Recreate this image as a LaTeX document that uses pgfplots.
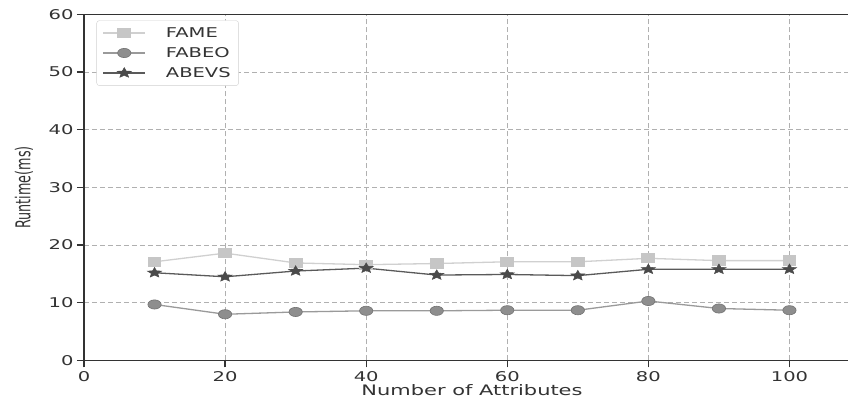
\documentclass[border=0pt]{standalone}
\usepackage{fontspec}
\setmainfont{DejaVu Sans}[FakeStretch=1.45]
\newfontfamily\ylabfont{DejaVu Sans}[FakeStretch=0.625]
\usepackage{pgfplots}
\pgfplotsset{compat=1.18}
\definecolor{fameC}{HTML}{C6C6C6}
\definecolor{fameL}{HTML}{D0D0D0}
\definecolor{fabeoC}{HTML}{8E8E8E}
\definecolor{fabeoL}{HTML}{9A9A9A}
\definecolor{abevsC}{HTML}{4A4A4A}
\definecolor{abevsL}{HTML}{5A5A5A}
\definecolor{spine}{HTML}{333333}
\definecolor{gridc}{HTML}{B0B0B0}
\pgfdeclareplotmark{fstar}{%
  \pgfpathmoveto{\pgfqpointpolar{90}{\pgfplotmarksize}}%
  \pgfpathlineto{\pgfqpointpolar{126}{0.45\pgfplotmarksize}}%
  \pgfpathlineto{\pgfqpointpolar{162}{\pgfplotmarksize}}%
  \pgfpathlineto{\pgfqpointpolar{198}{0.45\pgfplotmarksize}}%
  \pgfpathlineto{\pgfqpointpolar{234}{\pgfplotmarksize}}%
  \pgfpathlineto{\pgfqpointpolar{270}{0.45\pgfplotmarksize}}%
  \pgfpathlineto{\pgfqpointpolar{306}{\pgfplotmarksize}}%
  \pgfpathlineto{\pgfqpointpolar{342}{0.45\pgfplotmarksize}}%
  \pgfpathlineto{\pgfqpointpolar{18}{\pgfplotmarksize}}%
  \pgfpathlineto{\pgfqpointpolar{54}{0.45\pgfplotmarksize}}%
  \pgfpathclose
  \pgfusepathqfillstroke}
\begin{document}
\begin{tikzpicture}
\begin{axis}[
  at={(0,0)}, anchor=south west,
  scale only axis, width=776bp, height=346bp,
  xmin=0, xmax=110, ymin=0, ymax=60,
  xtick={0,20,40,60,80,100}, ytick={0,10,20,30,40,50,60},
  tick align=outside, tick pos=left,
  major tick length=7bp,
  every tick/.style={spine, line width=1.2bp},
  axis line style={spine, line width=1.6bp},
  grid=major,
  major grid style={gridc, dashed, line width=0.8bp, dash pattern=on 5bp off 3bp},
  /pgf/number format/assume math mode=true,
  tick label style={font=\fontsize{13.5}{15}\selectfont, color=black!80},
  xticklabel style={yshift=-1bp},
  xlabel={Number of Attributes},
  xlabel style={font=\fontsize{14.5}{16}\selectfont, color=black!80, at={(axis description cs:0.5,0)}, anchor=center, yshift=-30bp},
  ylabel={\ylabfont Runtime(ms)},
  ylabel style={font=\fontsize{20.5}{22}\selectfont, color=black!80, at={(axis description cs:-0.0773,0.5)}, anchor=center},
  legend style={at={(0.016,0.983)}, anchor=north west, draw=black!18, rounded corners=3bp,
     font=\fontsize{13.5}{16}\selectfont, text=black!80, row sep=4.5bp, inner xsep=6bp, inner ysep=5bp},
  legend cell align=left,
  legend image code/.code={\draw[mark repeat=2,mark phase=2] plot coordinates {(0bp,0bp)(21bp,0bp)(42bp,0bp)}; \path (60bp,0bp);},
  every axis plot/.append style={line width=1.3bp},
]
\addplot[color=fameL, mark=square*, mark size=4.5bp, mark options={fill=fameC, draw=fameC, xscale=1.4}]
 coordinates {(10,17.1)(20,18.6)(30,16.9)(40,16.6)(50,16.8)(60,17.1)(70,17.1)(80,17.7)(90,17.3)(100,17.3)};
\addlegendentry{FAME}
\addplot[color=fabeoL, mark=*, mark size=4.6bp, mark options={fill=fabeoC, draw=black!55, line width=0.6bp, xscale=1.45}]
 coordinates {(10,9.7)(20,8.0)(30,8.4)(40,8.6)(50,8.6)(60,8.7)(70,8.7)(80,10.3)(90,9.0)(100,8.7)};
\addlegendentry{FABEO}
\addplot[color=abevsL, mark=fstar, mark size=5.3bp, mark options={fill=abevsC, draw=abevsC, line width=0.5bp, xscale=1.4}]
 coordinates {(10,15.2)(20,14.5)(30,15.5)(40,16.0)(50,14.8)(60,14.9)(70,14.7)(80,15.8)(90,15.8)(100,15.8)};
\addlegendentry{ABEVS}
\end{axis}
\pgfresetboundingbox
\path[use as bounding box] (-84bp,-43bp) rectangle (764bp,360.4bp);
\end{tikzpicture}
\end{document}
